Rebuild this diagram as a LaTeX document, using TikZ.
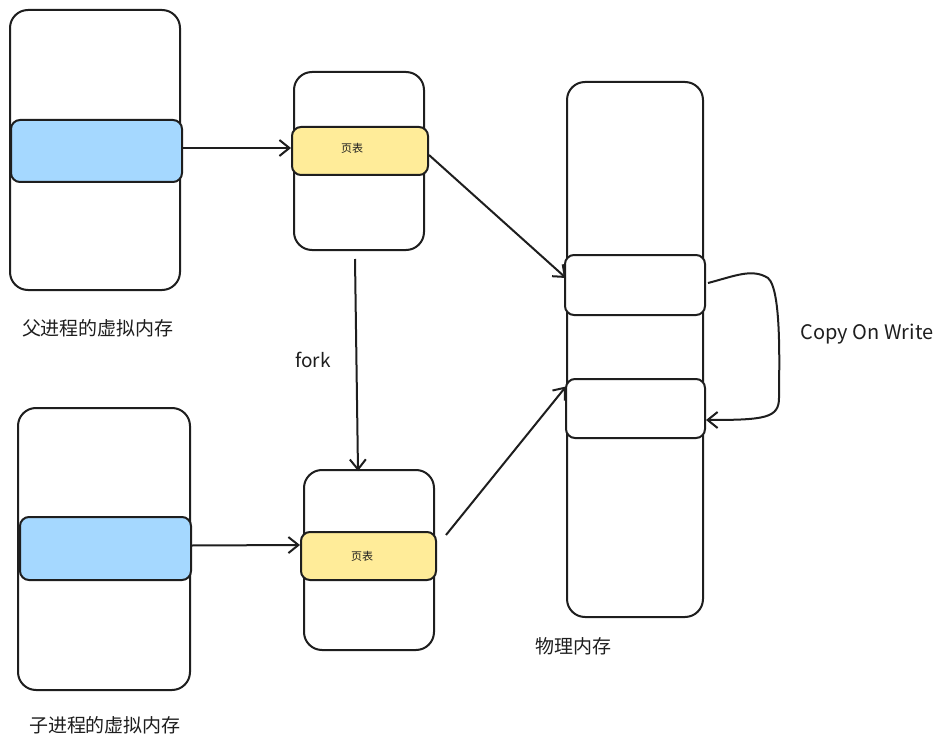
\documentclass[tikz,border=0pt]{standalone}
\usepackage{fontspec}
\setmainfont{Noto Sans CJK SC}
\usetikzlibrary{arrows.meta,calc}
\definecolor{ink}{RGB}{30,30,30}
\definecolor{vmblue}{RGB}{165,216,255}
\definecolor{ptyel}{RGB}{255,236,153}
\begin{document}
\begin{tikzpicture}[x=1pt,y=-1pt,
  box/.style={draw=ink,line width=2pt,rounded corners=18pt,fill=white,inner sep=0pt},
  bar/.style={draw=ink,line width=2pt,rounded corners=9pt,inner sep=0pt},
  blue/.style={bar,fill=vmblue},
  yel/.style={bar,fill=ptyel},
  slotbox/.style={bar,fill=white},
  arr/.style={draw=ink,line width=2pt,-{Straight Barb[length=10pt,width=16pt,line width=2pt]}},
  lbl/.style={font=\fontsize{19}{22}\selectfont,text=ink,inner sep=0pt},
  small/.style={font=\fontsize{11}{13}\selectfont,text=ink}
]
\useasboundingbox (0,0) rectangle (946,749);
% parent virtual memory
\node[box,minimum width=170pt,minimum height=280pt] (pv) at (95,150) {};
\node[blue,minimum width=171pt,minimum height=62pt] (pb) at (96.5,151) {};
\node[lbl] (pvl) at (98,328) {父进程的虚拟内存};
% child virtual memory
\node[box,minimum width=172pt,minimum height=282pt] (cv) at (104,549) {};
\node[blue,minimum width=171pt,minimum height=63pt] (cb) at (105.5,548.5) {};
\node[lbl] (cvl) at (105,725) {子进程的虚拟内存};
% page table 1
\node[box,minimum width=130pt,minimum height=178pt] (pt1) at (359,161) {};
\node[yel,minimum width=136pt,minimum height=48pt] (y1) at (360,151) {};
\node[small] (y1l) at (352,148) {页表};
% page table 2
\node[box,minimum width=130pt,minimum height=180pt] (pt2) at (369,560) {};
\node[yel,minimum width=135pt,minimum height=48pt] (y2) at (368.5,556) {};
\node[small] (y2l) at (362,556) {页表};
% physical memory
\node[box,minimum width=136pt,minimum height=535pt] (pm) at (635,349.5) {};
\node[slotbox,minimum width=140pt,minimum height=60pt] (s1) at (635,285) {};
\node[slotbox,minimum width=139pt,minimum height=59pt] (s2) at (635.5,408.5) {};
\node[lbl] (pml) at (573,646) {物理内存};
% texts
\node[lbl] (fork) at (313,360) {fork};
\node[lbl,font=\fontsize{20}{24}\selectfont] (cow) at (867,334) {Copy On Write};
% arrows
\draw[arr] (pb.east) ++(0,-3) -- ($(y1.west)+(0,-3)$);
\draw[arr] (cb.east) ++(0,-3) -- ($(y2.west)+(0,-11)$);
\draw[arr] ($(y1.east)+(0,4)$) -- ($(s1.west)+(2,-7)$);
\draw[arr] ($(y2.east)+(9,-21)$) -- ($(s2.west)+(1,-22)$);
\draw[arr] ($(pt1.south)+(-4,8)$) -- ($(pt2.north)+(-11,2)$);
\coordinate (cowa) at ($(s1.east)+(2,-2)$);
\coordinate (cowb) at ($(s2.east)+(0,11.5)$);
\draw[arr] (cowa) .. controls (735,276) and (752,268) .. (768,278)
  .. controls (782,290) and (779,370) .. (779,398)
  .. controls (779,418) and (765,420) .. (cowb);
\end{tikzpicture}
\end{document}
